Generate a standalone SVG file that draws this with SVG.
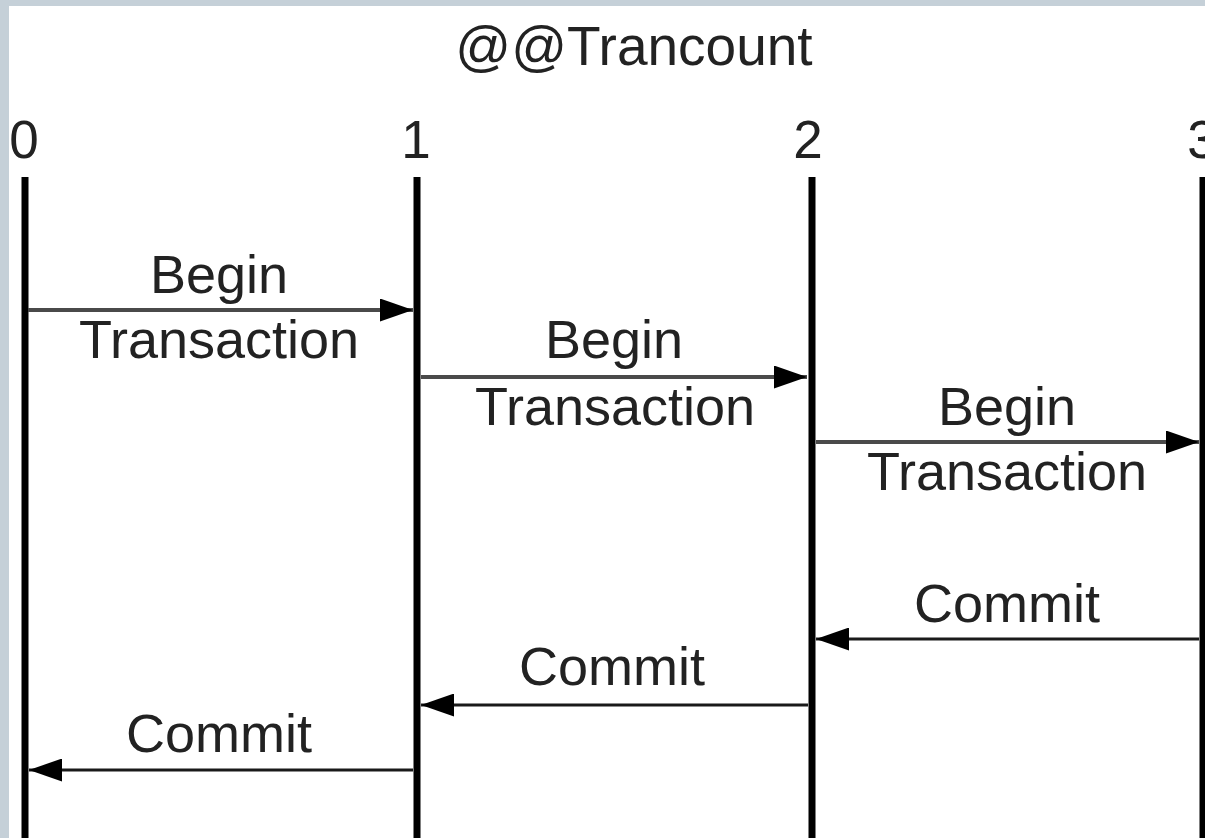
<svg xmlns="http://www.w3.org/2000/svg" width="1205" height="838" viewBox="0 0 1205 838">
  <style>
    .lbl { font-family: "Liberation Sans", Arial, sans-serif; font-size: 54px; fill: #222; text-anchor: middle; }
    .title { font-size: 55px; }
    .num { font-size: 53px; }
    .life { stroke: #000; stroke-width: 7; }
    .begin { stroke: #4a4a4a; stroke-width: 4; fill: none; }
    .commit { stroke: #1a1a1a; stroke-width: 3; fill: none; }
  </style>
  <defs>
    <marker id="head" viewBox="0 0 33 23" refX="33" refY="11.5" markerWidth="33" markerHeight="23" markerUnits="userSpaceOnUse" orient="auto">
      <path d="M0,0 L33,11.5 L0,23 Z" fill="#000"/>
    </marker>
  </defs>

  <!-- frame and canvas -->
  <rect x="0" y="0" width="1205" height="838" fill="#c5d0d8"/>
  <rect x="9" y="6" width="1196" height="832" fill="#fff"/>

  <g id="title">
    <text class="lbl title" x="634" y="65">@@Trancount</text>
  </g>

  <!-- trancount levels -->
  <g id="level-0">
    <text class="lbl num" x="24" y="158">0</text>
    <line class="life" x1="25" y1="177" x2="25" y2="838"/>
  </g>
  <g id="level-1">
    <text class="lbl num" x="416" y="158">1</text>
    <line class="life" x1="417" y1="177" x2="417" y2="838"/>
  </g>
  <g id="level-2">
    <text class="lbl num" x="808" y="158">2</text>
    <line class="life" x1="812" y1="177" x2="812" y2="838"/>
  </g>
  <g id="level-3">
    <text class="lbl num" x="1202" y="158">3</text>
    <line class="life" x1="1203" y1="177" x2="1203" y2="838"/>
  </g>

  <!-- transitions -->
  <g id="connectors">
    <line class="begin" x1="28" y1="310" x2="413" y2="310" marker-end="url(#head)"/>
    <line class="begin" x1="421" y1="377" x2="807" y2="377" marker-end="url(#head)"/>
    <line class="begin" x1="816" y1="442" x2="1199" y2="442" marker-end="url(#head)"/>
    <line class="commit" x1="1199" y1="639" x2="816" y2="639" marker-end="url(#head)"/>
    <line class="commit" x1="808" y1="705" x2="421" y2="705" marker-end="url(#head)"/>
    <line class="commit" x1="413" y1="770" x2="29" y2="770" marker-end="url(#head)"/>
  </g>

  <g id="labels">
    <text class="lbl" x="219" y="293">Begin</text>
    <text class="lbl" x="219" y="358">Transaction</text>
    <text class="lbl" x="614" y="358">Begin</text>
    <text class="lbl" x="615" y="425">Transaction</text>
    <text class="lbl" x="1007" y="425">Begin</text>
    <text class="lbl" x="1007" y="490">Transaction</text>
    <text class="lbl" x="1007" y="622">Commit</text>
    <text class="lbl" x="612" y="685">Commit</text>
    <text class="lbl" x="219" y="752">Commit</text>
  </g>
</svg>
